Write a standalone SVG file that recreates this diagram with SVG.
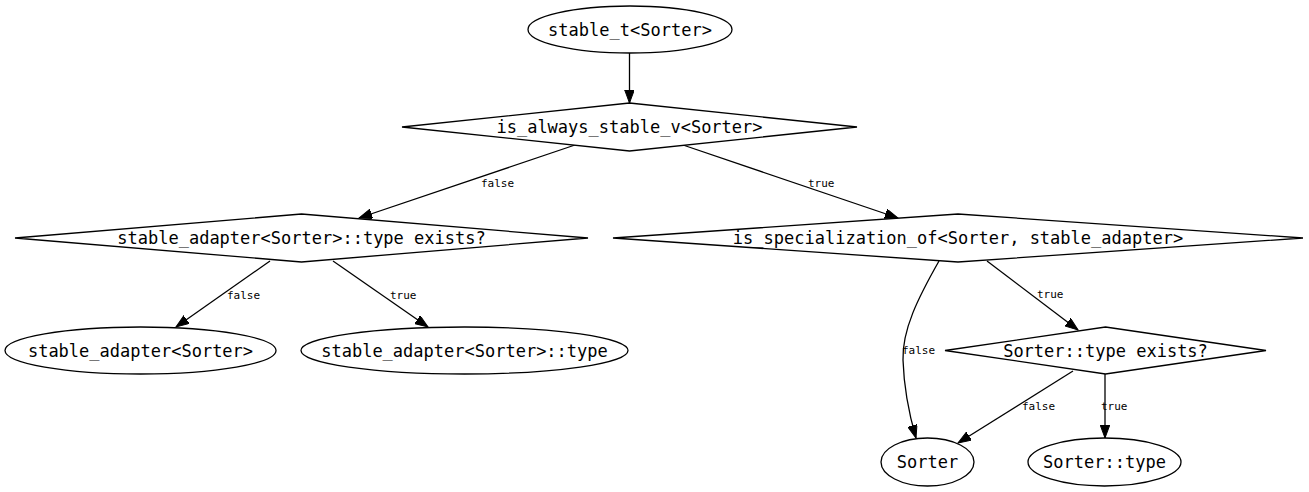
<svg xmlns="http://www.w3.org/2000/svg" width="1309" height="492" viewBox="0 0 1309 492">
<style>
.shape{fill:#fff;stroke:#000;stroke-width:1.3}
.t{font-family:"DejaVu Sans Mono","Liberation Mono",monospace;font-size:17px;text-anchor:middle;fill:#000}
.el{font-family:"DejaVu Sans Mono","Liberation Mono",monospace;font-size:11px;fill:#000}
.edge{fill:none;stroke:#000;stroke-width:1.3;marker-end:url(#arr)}
</style>
<defs>
<marker id="arr" markerUnits="userSpaceOnUse" markerWidth="14" markerHeight="10" refX="13" refY="4.8" orient="auto">
<path d="M0,0 L13,4.8 L0,9.6 z" fill="#000" stroke="#000" stroke-width="1"/>
</marker>
</defs>
<rect width="1309" height="492" fill="#fff"/>
<g id="edges">
<path class="edge" d="M629.5,53 L629.5,103"/>
<path class="edge" d="M575,145 L359,218"/>
<path class="edge" d="M683,145 L898,218"/>
<path class="edge" d="M270,261 L176,327"/>
<path class="edge" d="M333,261 L428,327"/>
<path class="edge" d="M987,261 L1078,330"/>
<path class="edge" d="M939,261 C918,298 902,330 903,360 C904,390 909,414 916,438"/>
<path class="edge" d="M1073,371 L958,443"/>
<path class="edge" d="M1105,374 L1105,438"/>
<text class="el" x="481" y="187">false</text>
<text class="el" x="808" y="187">true</text>
<text class="el" x="227" y="299">false</text>
<text class="el" x="390" y="299">true</text>
<text class="el" x="1037" y="298">true</text>
<text class="el" x="902" y="354">false</text>
<text class="el" x="1022" y="410">false</text>
<text class="el" x="1101" y="410">true</text>
</g>
<g id="n_stable_t">
<ellipse class="shape" cx="630" cy="29.5" rx="102" ry="23.5"/>
<text class="t" x="630" y="35.5">stable_t&lt;Sorter&gt;</text>
</g>
<g id="n_always_stable">
<polygon class="shape" points="629.5,103 857,127 629.5,151 402,127"/>
<text class="t" x="629.5" y="133">is_always_stable_v&lt;Sorter&gt;</text>
</g>
<g id="n_adapter_type_exists">
<polygon class="shape" points="301.5,214 588,238 301.5,262 15,238"/>
<text class="t" x="301.5" y="244">stable_adapter&lt;Sorter&gt;::type exists?</text>
</g>
<g id="n_is_specialization">
<polygon class="shape" points="958,214 1303,238 958,262 613,238"/>
<text class="t" x="958" y="244">is_specialization_of&lt;Sorter, stable_adapter&gt;</text>
</g>
<g id="n_stable_adapter">
<ellipse class="shape" cx="140.5" cy="350.5" rx="135.5" ry="23.5"/>
<text class="t" x="140.5" y="356.5">stable_adapter&lt;Sorter&gt;</text>
</g>
<g id="n_stable_adapter_type">
<ellipse class="shape" cx="464.5" cy="350.5" rx="163.5" ry="23.5"/>
<text class="t" x="464.5" y="356.5">stable_adapter&lt;Sorter&gt;::type</text>
</g>
<g id="n_sorter_type_exists">
<polygon class="shape" points="1105.5,327 1266,350.5 1105.5,374 945,350.5"/>
<text class="t" x="1105.5" y="356.5">Sorter::type exists?</text>
</g>
<g id="n_sorter">
<ellipse class="shape" cx="927.5" cy="462" rx="46.5" ry="24"/>
<text class="t" x="927.5" y="468">Sorter</text>
</g>
<g id="n_sorter_type">
<ellipse class="shape" cx="1104.5" cy="462" rx="76.5" ry="24"/>
<text class="t" x="1104.5" y="468">Sorter::type</text>
</g>
</svg>
